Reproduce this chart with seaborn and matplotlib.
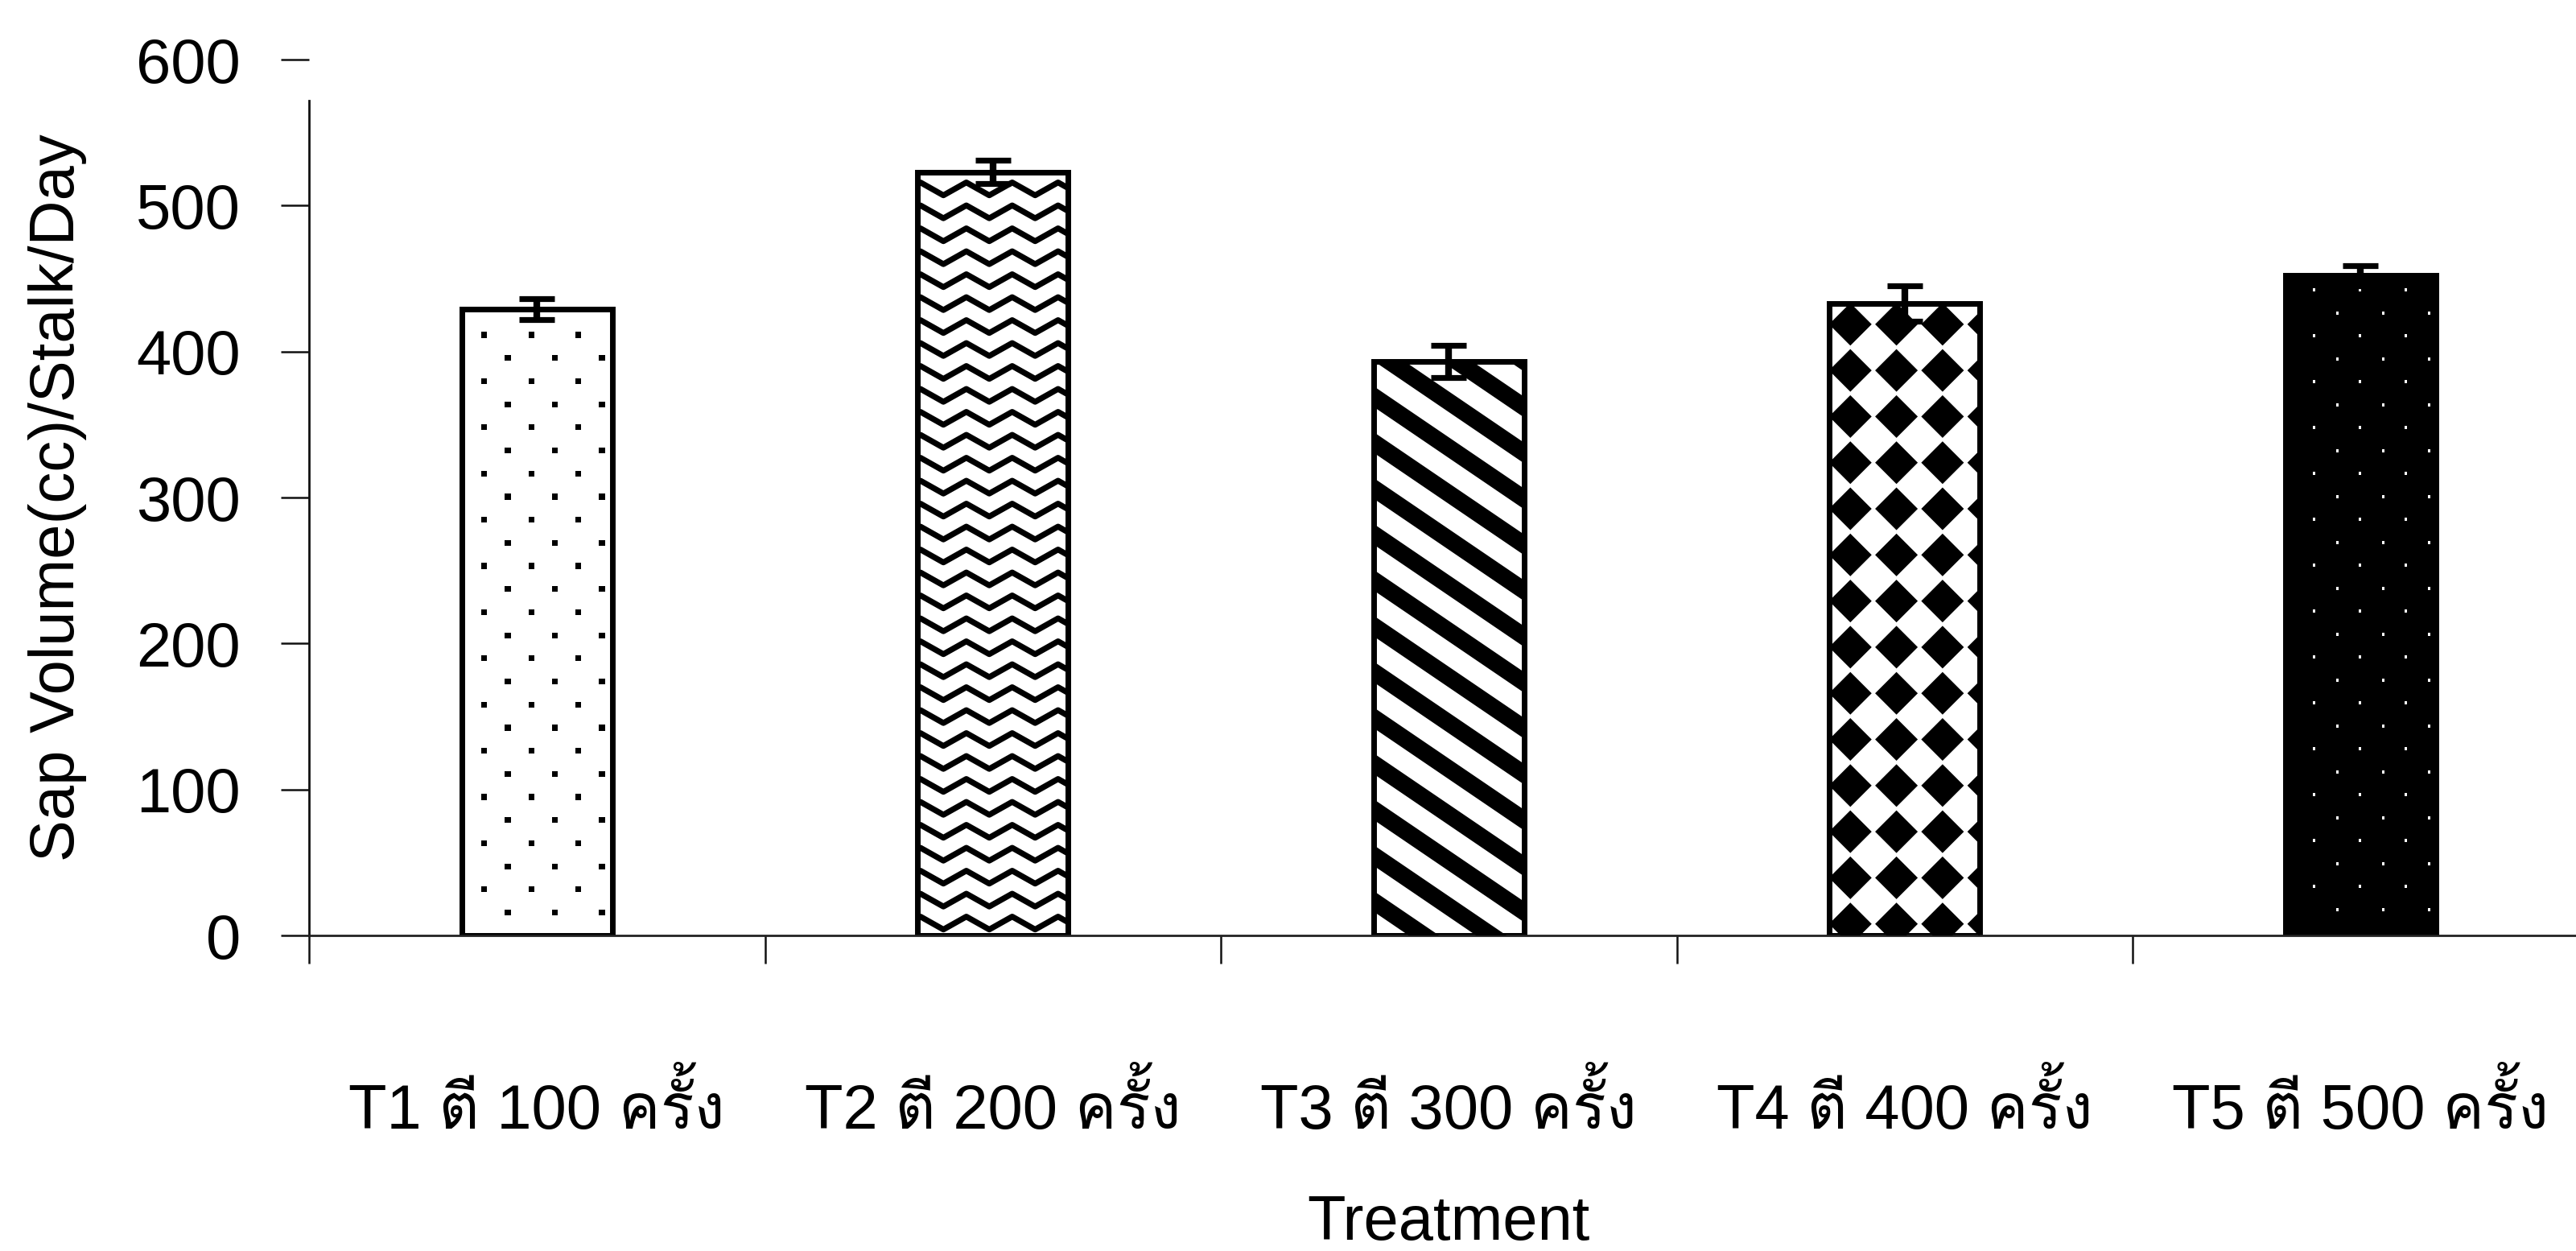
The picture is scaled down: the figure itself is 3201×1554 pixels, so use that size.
import numpy as np
import pandas as pd
import matplotlib
matplotlib.use("Agg")
import matplotlib.pyplot as plt
import seaborn as sns
from matplotlib import font_manager
from matplotlib.collections import PolyCollection, LineCollection
from matplotlib.transforms import IdentityTransform
from matplotlib.ticker import FixedLocator, NullFormatter, FixedFormatter

# ---- data -------------------------------------------------------------
treatments = ["T1 ตี 100 ครั้ง", "T2 ตี 200 ครั้ง", "T3 ตี 300 ครั้ง",
              "T4 ตี 400 ครั้ง", "T5 ตี 500 ครั้ง"]
sap_volume = [429, 523, 393, 433, 452]
sap_se = [7, 8, 11, 12, 7]
y_ticks = [0, 100, 200, 300, 400, 500, 600]
x_label = "Treatment"
y_label = "Sap Volume(cc)/Stalk/Day"
fills = ["dots", "waves", "stripes", "diamonds", "dark"]

W, H, DPI = 3201, 1554, 200

sns.set_theme(style="white")
installed = {f.name for f in font_manager.fontManager.ttflist}
thai = [f for f in ("Loma", "Noto Sans Thai Looped", "Noto Sans Thai") if f in installed][:1]
plt.rcParams["font.family"] = ["Liberation Sans"] + thai + ["DejaVu Sans"]
plt.rcParams["axes.unicode_minus"] = False

fig = plt.figure(figsize=(W / DPI, H / DPI), dpi=DPI)
fig.patch.set_facecolor("white")
# the category axis runs on past the right edge of the figure
ax = fig.add_axes([384 / W, (H - 1162) / H, 5 * 566.5 / W, (1162 - 74) / H])
ax.set_facecolor("white")

df = pd.DataFrame({"treatment": treatments, "volume": sap_volume})
sns.barplot(data=df, x="treatment", y="volume", order=treatments,
            color="white", saturation=1, width=0.33, errorbar=None,
            edgecolor="black", linewidth=2.5, ax=ax, zorder=2)

ax.set_xlim(-0.5, 4.5)
ax.set_ylim(0, 600)

bars = list(ax.patches)[:len(treatments)]
bars[4].set_facecolor("black")


def add_clipped(coll, patch):
    ax.add_collection(coll, autolim=False)
    coll.set_clip_path(patch)


def add_polys(polys, patch, color):
    coll = PolyCollection(polys, facecolors=color, edgecolors="none",
                          transform=IdentityTransform(), zorder=3)
    add_clipped(coll, patch)


def square(cx, cy, hx, hy):
    return [(cx - hx, cy - hy), (cx + hx, cy - hy), (cx + hx, cy + hy), (cx - hx, cy + hy)]


def fill_pattern(patch, kind):
    """Pattern fills laid out in device pixels inside one bar."""
    bb = patch.get_window_extent()
    left, right, bottom, top = bb.x0, bb.x1, bb.y0, bb.y1
    if kind == "dots":
        polys = []
        for k, y in enumerate(np.arange(top - 32, bottom, -28.7)):
            for x in np.arange(left + 28 + (k % 2) * 29.25, right - 3, 58.5):
                polys.append(square(x, y, 3.6, 3.6))
        add_polys(polys, patch, "black")
    elif kind == "waves":
        period, amp = 57.0, 16.0
        segs = []
        for y in np.arange(top - 21, bottom - 20, -28.5):
            xs = np.arange(left + 32 - 2 * period, right + period, period / 2)
            ys = [y - amp / 2 if i % 2 == 0 else y + amp / 2 for i in range(len(xs))]
            segs.append(list(zip(xs, ys)))
        coll = LineCollection(segs, colors="black", linewidths=2.6,
                              transform=IdentityTransform(), zorder=3)
        add_clipped(coll, patch)
    elif kind == "stripes":
        slope, vper, frac = 0.68, 57.0, 0.45
        w = right - left + 40
        polys = []
        for c in np.arange(top + slope * w + vper, bottom - vper, -vper):
            x0, x1 = left - 20, right + 20
            polys.append([(x0, c), (x1, c - slope * w),
                          (x1, c - slope * w - vper * frac), (x0, c - vper * frac)])
        add_polys(polys, patch, "black")
    elif kind == "diamonds":
        step, half = 57.3, 26.5
        polys = []
        for y in np.arange(top - 26, bottom - step, -step):
            for x in np.arange(left + 26, right + step, step):
                polys.append([(x - half, y), (x, y + half), (x + half, y), (x, y - half)])
        add_polys(polys, patch, "black")
    elif kind == "dark":
        polys = []
        for k, y in enumerate(np.arange(top - 18, bottom + 6, -28.5)):
            for x in np.arange(left + 36 + (k % 2) * 28.5, right - 6, 57.0):
                polys.append(square(x, y, 1.5, 2.0))
        add_polys(polys, patch, "white")


for patch, kind in zip(bars, fills):
    fill_pattern(patch, kind)

centers = [p.get_x() + p.get_width() / 2 for p in bars]
ax.errorbar(centers, sap_volume, yerr=sap_se, fmt="none", ecolor="black",
            elinewidth=3.0, capsize=8, capthick=2.6, zorder=5)

# axes styling
for side in ("top", "right"):
    ax.spines[side].set_visible(False)
ax.spines["left"].set_bounds(0, 572)
ax.spines["left"].set_linewidth(1.0)
ax.spines["bottom"].set_linewidth(1.0)
ax.spines["left"].set_color("#111111")
ax.spines["bottom"].set_color("#222222")

ax.set_yticks(y_ticks)
ax.tick_params(axis="y", which="major", direction="out", length=12.6, width=0.9,
               color="#111111", pad=18, labelsize=28, labelcolor="black", left=True)
ax.xaxis.set_major_locator(FixedLocator(np.arange(-0.5, 5.0, 1.0)))
ax.xaxis.set_major_formatter(NullFormatter())
ax.xaxis.set_minor_locator(FixedLocator(range(len(treatments))))
ax.xaxis.set_minor_formatter(FixedFormatter(treatments))
ax.tick_params(axis="x", which="major", direction="out", length=12.6, width=0.9,
               color="#111111", bottom=True)
ax.tick_params(axis="x", which="minor", length=0, pad=62, labelsize=28,
               labelcolor="black", bottom=True)

ax.set_xlabel(x_label, fontsize=28, color="black")
ax.set_ylabel(y_label, fontsize=28, labelpad=22, color="black")
ax.xaxis.set_label_coords((1800 - 384) / (5 * 566.5), -0.295)

fig.savefig("out.png", dpi=DPI, facecolor="white")
